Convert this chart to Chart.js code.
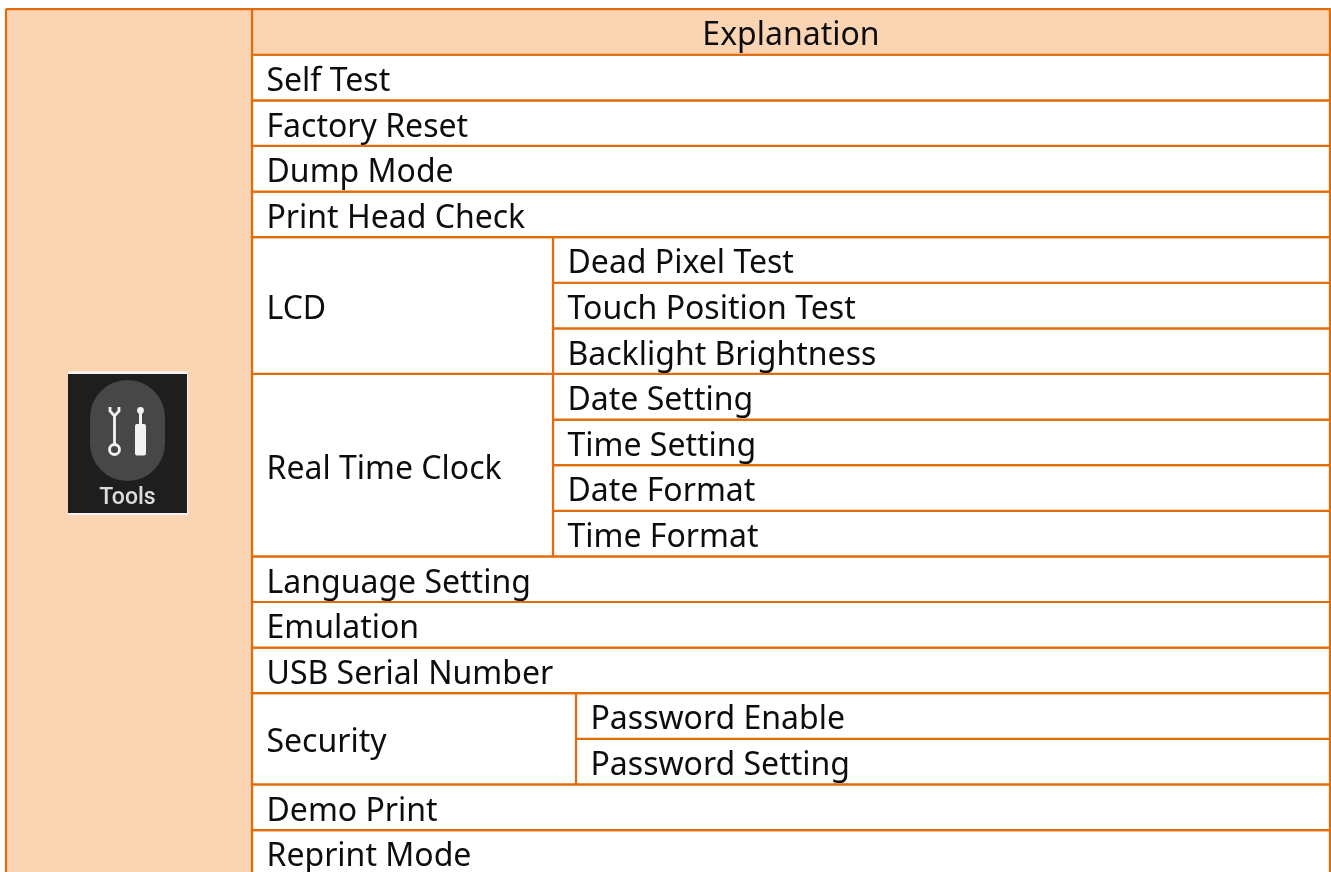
<!DOCTYPE html>
<html>
<head>
<meta charset="utf-8">
<title>Tools</title>
<script src="https://cdn.jsdelivr.net/npm/chart.js@4"></script>
<style>
  html, body { margin: 0; padding: 0; background: #fff; overflow: hidden; }
  canvas { display: block; }
</style>
</head>
<body>
<canvas id="table-chart" width="1331" height="872"></canvas>
<script>
const headerLabel = "Explanation";
const iconLabel = "Tools";
const sections = ["Self Test", "Factory Reset", "Dump Mode", "Print Head Check", "LCD", "Real Time Clock",
    "Language Setting", "Emulation", "USB Serial Number", "Security", "Demo Print", "Reprint Mode"];
const lcdItems = ["Dead Pixel Test", "Touch Position Test", "Backlight Brightness"];
const clockItems = ["Date Setting", "Time Setting", "Date Format", "Time Format"];
const securityItems = ["Password Enable", "Password Setting"];

// layout of the grid: x scale is in page px, y scale is in table rows
const EDGE_LEFT = 6, EDGE_SECTION = 252, EDGE_SUB = 553, EDGE_SUB_SECURITY = 576, EDGE_RIGHT = 1330;
const ROW_MIN = -0.2, ROW_MAX = 18.92, TOTAL_ROWS = 19;
const PAD = 14.5, TEXT_DROP = 4.3;
const LINE = "#e36c0a", PEACH = "#fbd4b4", WHITE = "#ffffff";
const FONT = '32px "Noto Sans"';

const subItemsBySection = { "LCD": lcdItems, "Real Time Clock": clockItems, "Security": securityItems };
const subEdgeBySection = { "LCD": EDGE_SUB, "Real Time Clock": EDGE_SUB, "Security": EDGE_SUB_SECURITY };

const cells = [];
function addCell(x0, x1, row0, row1, fill, label, align) {
    cells.push({ x0, x1, row0, row1, fill, label, align });
}

addCell(EDGE_LEFT, EDGE_SECTION, 0, TOTAL_ROWS + 1, PEACH, "", "left");
addCell(EDGE_SECTION, EDGE_RIGHT, 0, 1, PEACH, headerLabel, "center");

let row = 1;
sections.forEach(function (name) {
    const subs = subItemsBySection[name];
    if (!subs) {
        addCell(EDGE_SECTION, EDGE_RIGHT, row, row + 1, WHITE, name, "left");
        row += 1;
        return;
    }
    const edge = subEdgeBySection[name];
    addCell(EDGE_SECTION, edge, row, row + subs.length, WHITE, name, "left");
    subs.forEach(function (sub, i) {
        addCell(edge, EDGE_RIGHT, row + i, row + i + 1, WHITE, sub, "left");
    });
    row += subs.length;
});

const datasets = cells.map(function (c) {
    return {
        data: [
            { x: c.x0, y: c.row0 }, { x: c.x1, y: c.row0 }, { x: c.x1, y: c.row1 },
            { x: c.x0, y: c.row1 }, { x: c.x0, y: c.row0 }
        ],
        showLine: true,
        fill: "shape",
        backgroundColor: c.fill,
        borderColor: LINE,
        borderWidth: 2.2,
        borderJoinStyle: "miter",
        pointRadius: 0,
        tension: 0,
        clip: false
    };
});

// screenshot of the printer's menu icon
function drawIcon(ctx) {
    ctx.save();
    ctx.fillStyle = "#f4f4f4";
    ctx.fillRect(68, 371.5, 120, 143.5);
    ctx.fillStyle = "#1e1e1e";
    ctx.fillRect(68, 374, 119, 139);

    ctx.fillStyle = "#474747";
    ctx.beginPath();
    ctx.roundRect(90, 380, 75, 101, 37.5);
    ctx.fill();

    ctx.strokeStyle = "#f2f2f2";
    ctx.fillStyle = "#f2f2f2";
    ctx.lineWidth = 2.8;
    // wrench
    ctx.beginPath();
    ctx.moveTo(110, 407);
    ctx.lineTo(110, 411);
    ctx.lineTo(114.5, 416);
    ctx.lineTo(119, 411);
    ctx.lineTo(119, 407);
    ctx.moveTo(114.5, 416);
    ctx.lineTo(114.5, 445);
    ctx.stroke();
    ctx.beginPath();
    ctx.arc(114.5, 449.5, 5, 0, Math.PI * 2);
    ctx.stroke();
    // screwdriver
    ctx.beginPath();
    ctx.arc(140.5, 410.5, 3.4, 0, Math.PI * 2);
    ctx.fill();
    ctx.fillRect(139, 410, 3, 16);
    ctx.beginPath();
    ctx.roundRect(135, 424, 11, 31.5, 2);
    ctx.fill();

    ctx.font = '500 23px Roboto';
    ctx.fillStyle = "#dcdcdc";
    ctx.textAlign = "center";
    ctx.textBaseline = "alphabetic";
    ctx.fillText(iconLabel, 127.5, 504);
    ctx.restore();
}

const cellLabels = {
    id: "cellLabels",
    afterDatasetsDraw: function (chart) {
        const ctx = chart.ctx;
        const xs = chart.scales.x, ys = chart.scales.y;
        ctx.save();
        ctx.font = FONT;
        ctx.fillStyle = "#0d0d0d";
        ctx.textBaseline = "middle";
        cells.forEach(function (c) {
            if (!c.label) return;
            const y = (ys.getPixelForValue(c.row0) + ys.getPixelForValue(c.row1)) / 2 + TEXT_DROP;
            if (c.align === "center") {
                ctx.textAlign = "center";
                ctx.fillText(c.label, (xs.getPixelForValue(c.x0) + xs.getPixelForValue(c.x1)) / 2, y);
            } else {
                ctx.textAlign = "left";
                ctx.fillText(c.label, xs.getPixelForValue(c.x0) + PAD, y);
            }
        });
        ctx.restore();
        drawIcon(ctx);
    }
};

new Chart(document.getElementById("table-chart").getContext("2d"), {
    type: "scatter",
    data: { datasets: datasets },
    options: {
        responsive: false,
        animation: false,
        layout: { padding: 0 },
        plugins: {
            legend: { display: false },
            tooltip: { enabled: false }
        },
        scales: {
            x: { type: "linear", display: false, min: 0, max: 1331 },
            y: { type: "linear", display: false, min: ROW_MIN, max: ROW_MAX, reverse: true }
        }
    },
    plugins: [cellLabels]
});
</script>
</body>
</html>
